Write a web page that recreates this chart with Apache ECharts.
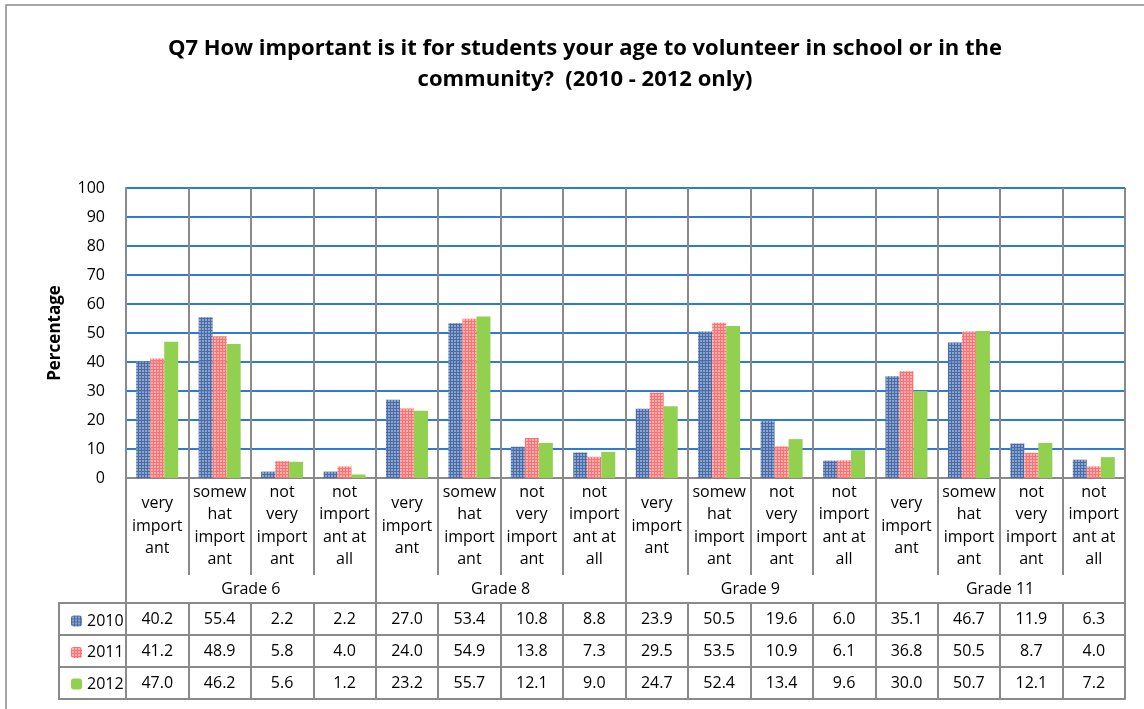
<!DOCTYPE html>
<html>
<head>
<meta charset="utf-8">
<script src="https://cdn.jsdelivr.net/npm/echarts@6/dist/echarts.min.js"></script>
<style>
  html, body { margin: 0; padding: 0; background: #ffffff; }
  #chart { width: 1144px; height: 709px; }
</style>
</head>
<body>
<div id="chart"></div>
<script>
// Response categories (wrapped as in the cell layout), grade groups and survey years
const responses = [
  'very\nimport\nant',
  'somew\nhat\nimport\nant',
  'not\nvery\nimport\nant',
  'not\nimport\nant at\nall'
];
const grades = ['Grade 6', 'Grade 8', 'Grade 9', 'Grade 11'];
const years = ['2010', '2011', '2012'];

// Percentages per grade/response, in the order Grade 6, 8, 9, 11
const values2010 = [40.2, 55.4, 2.2, 2.2, 27.0, 53.4, 10.8, 8.8, 23.9, 50.5, 19.6, 6.0, 35.1, 46.7, 11.9, 6.3];
const values2011 = [41.2, 48.9, 5.8, 4.0, 24.0, 54.9, 13.8, 7.3, 29.5, 53.5, 10.9, 6.1, 36.8, 50.5, 8.7, 4.0];
const values2012 = [47.0, 46.2, 5.6, 1.2, 23.2, 55.7, 12.1, 9.0, 24.7, 52.4, 13.4, 9.6, 30.0, 50.7, 12.1, 7.2];

const yTicks = { min: 0, max: 100, interval: 10 };

// ---- drawing ----
const FONT = '"Open Sans", "Noto Sans", sans-serif';
const GRAY = '#8a8a8a';
const BLUE_GRID = '#2d7bd4';

// Small-grid fill patterns for the 2010 and 2011 bars
function gridPattern(light, dark) {
  const c = document.createElement('canvas');
  c.width = 3; c.height = 3;
  const g = c.getContext('2d');
  g.fillStyle = light; g.fillRect(0, 0, 3, 3);
  g.fillStyle = dark;
  g.fillRect(0, 0, 3, 1);
  g.fillRect(0, 0, 1, 3);
  return { image: c, repeat: 'repeat' };
}
const fill2010 = gridPattern('rgba(128,155,202,0.9)', '#4b6ba4');
const fill2011 = gridPattern('rgba(255,170,170,0.9)', '#ff7070');
const fill2012 = '#92d050';

const cells = [];
grades.forEach(g => responses.forEach(r => cells.push(g + '|' + r)));

const plotLeft = 126, plotRight = 1125, plotTop = 188, plotBottom = 478;
const catBandH = 97;    // response label band
const gradeBandH = 125; // down to the data table
const rowH = 32;

const tableRows = [values2010, values2011, values2012];

const xAxes = [
  {
    type: 'category', data: cells, position: 'bottom',
    axisLine: { show: true, lineStyle: { color: GRAY, width: 2 } },
    axisTick: { show: true, interval: 0, length: catBandH, lineStyle: { color: GRAY, width: 2 } },
    splitLine: { show: true, interval: 0, lineStyle: { color: GRAY, width: 2 } },
    axisLabel: {
      interval: 0, margin: 48, verticalAlign: 'middle',
      fontFamily: FONT, fontSize: 16, lineHeight: 22.5, color: '#000',
      formatter: (v, i) => responses[i % responses.length]
    }
  },
  {
    type: 'category', data: grades, position: 'bottom',
    axisLine: { show: false },
    axisTick: { show: true, interval: 0, length: gradeBandH, lineStyle: { color: GRAY, width: 2 } },
    splitLine: { show: false },
    axisLabel: {
      interval: 0, margin: 111, verticalAlign: 'middle',
      fontFamily: FONT, fontSize: 16, color: '#000'
    }
  }
];
tableRows.forEach((vals, r) => {
  xAxes.push({
    type: 'category', data: cells, position: 'bottom', offset: gradeBandH + r * rowH,
    axisLine: { show: true, lineStyle: { color: GRAY, width: 2 } },
    axisTick: { show: true, interval: 0, length: rowH, lineStyle: { color: GRAY, width: 2 } },
    splitLine: { show: false },
    axisLabel: {
      interval: 0, margin: 16, verticalAlign: 'middle',
      fontFamily: FONT, fontSize: 16, color: '#000',
      formatter: (v, i) => vals[i].toFixed(1)
    }
  });
});
// closing line under the last table row
xAxes.push({
  type: 'category', data: cells, position: 'bottom', offset: gradeBandH + tableRows.length * rowH,
  axisLine: { show: true, lineStyle: { color: GRAY, width: 2 } },
  axisTick: { show: false }, axisLabel: { show: false }, splitLine: { show: false }
});

// frame of the series-name column at the left of the data table
const tableTop = plotBottom + gradeBandH;
const tableLeft = 59;
const keyLines = [];
for (let r = 0; r <= tableRows.length; r++) {
  keyLines.push({
    type: 'line',
    shape: { x1: tableLeft, y1: tableTop + r * rowH, x2: plotLeft, y2: tableTop + r * rowH },
    style: { stroke: GRAY, lineWidth: 2 }
  });
}
keyLines.push({
  type: 'line',
  shape: { x1: tableLeft, y1: tableTop - 1, x2: tableLeft, y2: tableTop + tableRows.length * rowH + 1 },
  style: { stroke: GRAY, lineWidth: 2 }
});

const chart = echarts.init(document.getElementById('chart'), null, { renderer: 'canvas' });

function barSeries(name, data, color) {
  return {
    name, type: 'bar', data, xAxisIndex: 0, yAxisIndex: 0,
    barWidth: 14, barGap: '0%',
    itemStyle: { color },
    emphasis: { disabled: true },
    animation: false
  };
}

chart.setOption({
  animation: false,
  backgroundColor: '#ffffff',
  title: {
    text: 'Q7 How important is it for students your age to volunteer in school or in the\ncommunity?  (2010 - 2012 only)',
    left: 580, top: 28, textAlign: 'center',
    textStyle: { fontFamily: FONT, fontWeight: 'bold', fontSize: 22, lineHeight: 31, color: '#000' }
  },
  legend: {
    data: years,
    orient: 'vertical',
    left: 66, top: 608,
    itemWidth: 11, itemHeight: 11,
    itemGap: 15.5,
    selectedMode: false,
    textStyle: { fontFamily: FONT, fontSize: 16, lineHeight: 16, color: '#000' }
  },
  grid: {
    left: plotLeft, right: 1144 - plotRight, top: plotTop, bottom: 709 - plotBottom,
    containLabel: false
  },
  xAxis: xAxes,
  yAxis: {
    type: 'value', min: yTicks.min, max: yTicks.max, interval: yTicks.interval,
    name: 'Percentage', nameLocation: 'middle', nameGap: 62, nameRotate: 90,
    nameTextStyle: { fontFamily: FONT, fontSize: 17, fontWeight: 'bold', color: '#000' },
    axisLine: { show: true, lineStyle: { color: GRAY, width: 2 } },
    axisTick: { show: false },
    axisLabel: { margin: 21, fontFamily: FONT, fontSize: 16, color: '#000' },
    splitLine: { show: true, lineStyle: { color: BLUE_GRID, width: 2 } }
  },
  series: [
    barSeries(years[0], values2010, fill2010),
    barSeries(years[1], values2011, fill2011),
    barSeries(years[2], values2012, fill2012)
  ],
  graphic: [
    {
      type: 'rect', silent: true,
      shape: { x: 6, y: 5, width: 1200, height: 800 },
      style: { fill: 'none', stroke: GRAY, lineWidth: 1.5 },
      z: -1
    }
  ].concat(keyLines)
});
</script>
</body>
</html>
